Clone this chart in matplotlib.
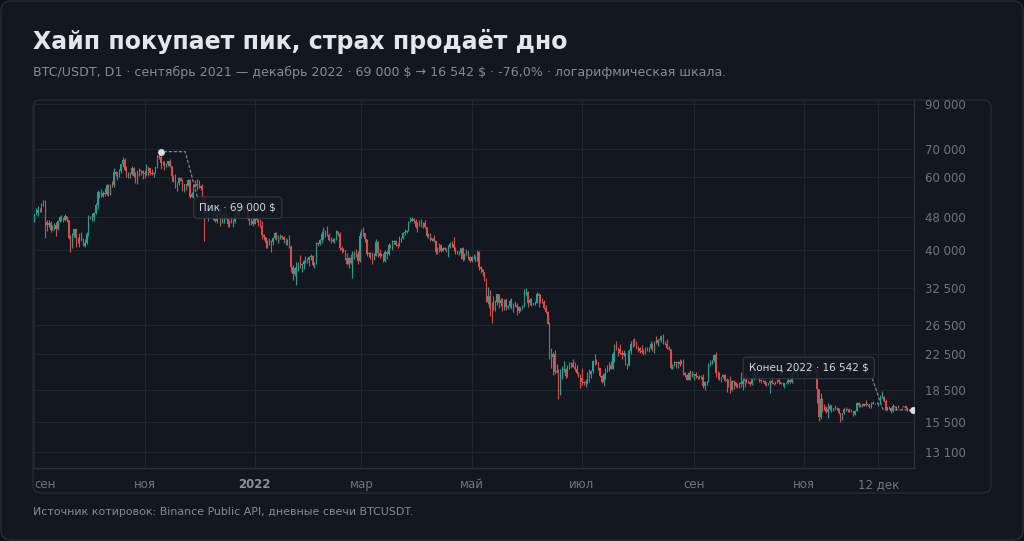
import matplotlib
matplotlib.use('Agg')
import matplotlib.pyplot as plt
import matplotlib.dates as mdates
from matplotlib.patches import FancyBboxPatch
from matplotlib.transforms import IdentityTransform
import numpy as np
import pandas as pd

# BTCUSDT daily candles, 2021-09-01 .. 2022-12-31 (one row per month)
first_open = 47130
close = [
    48810, 49246, 49999, 49915, 51756, 52663, 46863, 46048, 46395, 44850, 45173, 46026, 44940, 47111, 48121, 47737, 47299, 48293, 47241, 42843, 40693, 43574, 44895, 42839, 42716, 43208, 42235, 41034, 41564, 43790,
    48141, 47634, 48200, 49224, 51471, 55315, 53785, 53951, 54949, 54659, 57471, 56005, 57367, 57347, 61672, 60875, 61528, 62009, 64280, 66001, 62193, 60688, 61286, 60852, 63078, 60328, 58413, 60575, 62253, 61859, 61299,
    60911, 63219, 62896, 61395, 60937, 61470, 63273, 67525, 66947, 64882, 64774, 64122, 64380, 65466, 63557, 60161, 60368, 56942, 58119, 59697, 58730, 56289, 57569, 57162, 58960, 53727, 54721, 57274, 57776, 56950,
    57184, 56480, 53601, 49152, 49397, 50441, 50589, 50471, 47545, 47140, 49389, 50053, 46702, 48343, 48864, 47632, 46131, 46834, 46681, 46915, 48890, 48589, 50838, 50821, 50429, 50810, 50640, 47589, 46464, 47120, 46216,
    47722, 47286, 46446, 45833, 43431, 43082, 41566, 41679, 41864, 41822, 42736, 43946, 42592, 43099, 43177, 43114, 42250, 42375, 41744, 40680, 36445, 35071, 36244, 36660, 36958, 36809, 37160, 37716, 38166, 37881, 38466,
    38695, 36896, 37311, 41574, 41382, 42380, 43840, 44043, 44372, 43495, 42373, 42217, 42053, 42535, 44544, 43873, 40515, 39974, 40079, 38386, 37008, 38230, 37250, 38327, 39219, 39116, 37700, 43160,
    44421, 43892, 42454, 39148, 39397, 38420, 37988, 38730, 41941, 39422, 38729, 38807, 37777, 39671, 39280, 41114, 40917, 41757, 42201, 41262, 41002, 42364, 42882, 43991, 44313, 44511, 46827, 47122, 47434, 47067, 45510,
    46283, 45811, 46407, 46580, 45497, 43170, 43444, 42252, 42753, 42158, 39530, 40074, 41147, 39942, 40552, 40378, 39678, 40801, 41493, 41358, 40480, 39709, 39441, 39450, 40426, 38112, 39235, 39742, 38596, 37630,
    38468, 38525, 37728, 39690, 36552, 36013, 35472, 34038, 30077, 31017, 29103, 29030, 29287, 30074, 31329, 29874, 30444, 28715, 30320, 29201, 29445, 30294, 29110, 29655, 29543, 29201, 28630, 29030, 29468, 31734, 31801,
    29805, 30452, 29700, 29865, 29919, 31373, 31125, 30205, 30110, 29091, 28425, 26575, 22487, 22136, 22584, 20401, 20468, 18970, 20574, 20574, 20719, 19965, 21100, 21232, 21502, 21028, 20735, 20280, 20104, 19784,
    19269, 19243, 19297, 20231, 20190, 20548, 21637, 21731, 21592, 20860, 19970, 19329, 20212, 20569, 20836, 21190, 20779, 22485, 23389, 23231, 23164, 22714, 22465, 22609, 21361, 21239, 22930, 23843, 23804, 23656, 23336,
    23314, 22978, 22846, 22630, 23313, 23263, 23269, 23809, 23164, 23954, 23935, 24403, 24442, 24305, 24102, 23854, 23342, 23191, 20834, 21140, 21516, 21400, 21529, 21368, 21560, 20241, 20037, 19555, 20285, 19811, 20050,
    20131, 19952, 19832, 19986, 19812, 18837, 19290, 19329, 21381, 21460, 21769, 22370, 20296, 20241, 19701, 19803, 20113, 19416, 19537, 18875, 18461, 19401, 19289, 18920, 18807, 19227, 19079, 19412, 19591, 19422,
    19310, 19056, 19623, 20336, 20160, 19955, 19531, 19417, 19446, 19141, 19051, 19157, 19382, 19185, 19067, 19268, 19550, 19334, 19139, 19053, 19172, 19208, 19567, 19345, 20095, 20771, 20295, 20591, 20809, 20627, 20490,
    20483, 20151, 20207, 21148, 21299, 20905, 20592, 18541, 15880, 17586, 17034, 16799, 16353, 16618, 16884, 16669, 16687, 16697, 16712, 16291, 15781, 16226, 16603, 16598, 16522, 16458, 16428, 16213, 16443, 17163,
    16978, 17092, 16885, 17105, 16967, 17089, 16836, 17224, 17128, 17127, 17085, 17209, 17775, 17804, 17357, 16633, 16776, 16739, 16439, 16898, 16818, 16830, 16780, 16837, 16832, 16919, 16707, 16547, 16633, 16607, 16542,
]
high = [
    48900, 50400, 51050, 50560, 51900, 52950, 52920, 47380, 47400, 47050, 45970, 46460, 46880, 47250, 48450, 48490, 48170, 48800, 48370, 47340, 43630, 44000, 44980, 45200, 42980, 43950, 44350, 42790, 42650, 44130,
    48500, 48360, 49250, 49500, 51890, 55750, 55330, 56100, 55480, 56560, 57840, 57680, 57700, 58550, 62930, 62000, 61720, 62700, 64490, 67000, 66640, 63730, 61750, 61500, 63730, 63290, 61500, 62500, 62980, 62360, 62400,
    62400, 64270, 63500, 63130, 62600, 61560, 63290, 67790, 68530, 69000, 65600, 65460, 64970, 65500, 66400, 63620, 60800, 60950, 58350, 59850, 60000, 59290, 57850, 57800, 59400, 59180, 55330, 57450, 58870, 59180,
    59050, 57380, 57600, 53910, 49700, 51000, 51940, 51200, 50800, 50100, 49490, 50800, 50300, 48700, 49500, 49420, 47990, 47330, 48300, 47540, 49330, 49580, 51380, 51870, 51180, 51280, 52090, 50700, 48140, 47900, 48550,
    47950, 47990, 47570, 47500, 47070, 43750, 43150, 42300, 42790, 42250, 43100, 44320, 44300, 43450, 43800, 43480, 43200, 42690, 42580, 43500, 41100, 36840, 36500, 37550, 37550, 38920, 37230, 38000, 38720, 38360, 38740,
    39270, 38860, 37390, 41770, 41950, 42650, 44500, 45490, 44800, 45820, 43920, 43000, 42760, 42880, 44770, 44580, 44170, 40960, 40450, 40150, 39490, 38430, 39250, 39840, 39730, 40300, 39850, 44230,
    44950, 45400, 44100, 42530, 39700, 39690, 39550, 39360, 42600, 42040, 40240, 39490, 39310, 39950, 39880, 41700, 41500, 42330, 42400, 42300, 41540, 43360, 43020, 44220, 45100, 44820, 46920, 48190, 48100, 47700, 47600,
    46720, 47210, 47440, 46890, 47200, 45510, 43900, 43970, 42800, 43420, 42410, 40700, 41560, 41500, 40700, 40710, 40600, 41100, 41760, 42200, 42980, 40800, 39980, 39930, 40600, 40800, 39470, 40370, 39930, 38790,
    38670, 39170, 38650, 40020, 39840, 36650, 36130, 35500, 34250, 32650, 32160, 30030, 31080, 30340, 31400, 31400, 30770, 30650, 30550, 30780, 29600, 30480, 30650, 29830, 30220, 29850, 29400, 29240, 29540, 32220, 32400,
    31980, 30690, 30680, 29950, 30180, 31770, 31560, 31340, 30700, 30390, 29480, 28550, 26900, 23360, 22800, 22980, 21370, 20800, 20800, 21100, 21720, 20870, 21230, 21520, 21590, 21870, 21540, 21200, 20430, 20180,
    20870, 19440, 19650, 20350, 20750, 20680, 21840, 22530, 21950, 21600, 20880, 20050, 20250, 20880, 21200, 21580, 21690, 22780, 23800, 24280, 23430, 23760, 22990, 23020, 22660, 21380, 23110, 24200, 24440, 24670, 24200,
    23510, 23470, 23650, 23230, 23470, 23400, 23400, 24250, 23930, 24230, 24920, 24460, 24890, 25050, 25210, 24250, 24450, 23600, 23210, 21380, 21690, 21540, 21680, 21900, 21820, 21880, 20350, 20160, 20430, 20580, 20490,
    20200, 20440, 20000, 20060, 20060, 20180, 19460, 19450, 21500, 21800, 21860, 22490, 22800, 20550, 20380, 19890, 20190, 20170, 19690, 19630, 19960, 19500, 19500, 19310, 19180, 19320, 20380, 19790, 19650, 20180,
    19480, 19400, 19720, 20460, 20370, 20460, 20060, 19620, 19560, 19530, 19270, 19230, 19520, 19950, 19230, 19420, 19680, 19710, 19350, 19340, 19250, 19260, 19700, 19600, 20420, 21020, 20850, 20750, 21090, 20930, 20850,
    20700, 20800, 20400, 21300, 21480, 21370, 21000, 20670, 18600, 18160, 17650, 17060, 16880, 17190, 17140, 16990, 16750, 17010, 16810, 16750, 16300, 16300, 16710, 16810, 16600, 16690, 16600, 16490, 16530, 17250,
    17320, 17110, 17160, 17200, 17430, 17110, 17140, 17300, 17360, 17230, 17270, 17240, 18000, 18390, 17850, 17530, 16800, 16870, 16820, 17060, 16930, 16870, 16960, 16860, 16860, 16940, 16970, 16790, 16660, 16650, 16630,
]
low = [
    46700, 48600, 48400, 49400, 49500, 50950, 42850, 44400, 45500, 44150, 44750, 44770, 43370, 44700, 46700, 47050, 46750, 47050, 46850, 42500, 39600, 40550, 43080, 40680, 41680, 40750, 42100, 40900, 40750, 41450,
    43300, 47420, 47100, 46900, 49000, 50380, 53350, 53600, 53680, 54080, 54400, 53880, 54250, 56800, 56850, 60150, 58960, 60100, 61320, 63480, 62000, 60000, 59670, 59510, 60650, 59820, 58000, 57820, 60200, 60720, 59450,
    59500, 60620, 60380, 60680, 60720, 60050, 61380, 63090, 66380, 62820, 64100, 62330, 63400, 63580, 63400, 58570, 58370, 56470, 55600, 57350, 58520, 55650, 55290, 55830, 57000, 53500, 53670, 53330, 56730, 55880,
    56460, 55840, 51680, 42000, 47730, 47100, 50040, 48600, 47300, 46850, 46630, 48640, 45670, 46550, 46550, 47530, 45500, 45540, 46410, 45560, 46630, 48420, 48050, 50400, 50200, 49400, 50450, 47300, 46100, 45900, 45680,
    46210, 46650, 45700, 45500, 42500, 42430, 40610, 40500, 41200, 39650, 41270, 42450, 42310, 41730, 42570, 42600, 41540, 41250, 41140, 40570, 35440, 34010, 34600, 32920, 35700, 36200, 35510, 36160, 37300, 37350, 36630,
    38000, 36590, 36250, 37060, 40960, 41100, 41650, 42650, 43120, 43180, 42000, 41750, 41880, 41570, 42430, 43310, 40070, 39450, 39640, 38000, 36800, 36350, 37040, 34320, 38010, 38570, 37000, 37450,
    42800, 43330, 41830, 38650, 38580, 38090, 37160, 37870, 38660, 38540, 38220, 38660, 37580, 37560, 38100, 38910, 40500, 40140, 41500, 40920, 40500, 40900, 41760, 42560, 43620, 44070, 44420, 46660, 46950, 46560, 45200,
    44200, 45620, 45520, 45120, 45350, 43120, 42730, 42110, 42130, 41870, 39200, 39250, 39550, 39550, 39800, 39990, 39560, 38540, 40570, 40820, 39750, 39180, 39280, 38970, 38200, 37700, 37870, 38880, 38170, 37580,
    37390, 38050, 37510, 37670, 35860, 35260, 34780, 33710, 30030, 29730, 27780, 26700, 28750, 28630, 29500, 29090, 29450, 28650, 28690, 28740, 28950, 29250, 28870, 28500, 29300, 28020, 28200, 28560, 28850, 29300, 31220,
    29300, 29580, 29380, 29480, 29510, 29880, 29220, 29850, 29950, 28850, 28200, 26560, 21930, 20850, 20110, 20230, 20250, 17620, 17960, 19640, 20350, 19770, 19900, 20700, 20900, 20970, 20500, 20170, 19860, 18630,
    18970, 18980, 18780, 19050, 19300, 19770, 20240, 21190, 21320, 20650, 19880, 19240, 18910, 19650, 20380, 20480, 20760, 20760, 21580, 23030, 22340, 22510, 21930, 22260, 21250, 20710, 21040, 22600, 23430, 23500, 23230,
    22850, 22660, 22690, 22430, 22590, 22920, 22850, 23160, 22880, 22670, 23860, 23600, 24300, 24150, 23780, 23710, 23180, 23080, 20780, 20760, 21070, 20890, 20900, 21140, 21310, 20110, 19800, 19520, 19540, 19540, 19800,
    19560, 19750, 19650, 19600, 19640, 18640, 18510, 19010, 19300, 21110, 21350, 21550, 19870, 19620, 19500, 19320, 19770, 19370, 18230, 18740, 18130, 18360, 18530, 18820, 18630, 18680, 18810, 18470, 18830, 19160,
    19160, 18920, 19000, 19500, 19740, 19860, 19330, 19250, 19310, 19030, 18860, 18970, 18190, 19080, 18970, 19060, 19150, 19100, 19080, 18900, 18650, 19110, 19070, 19160, 19240, 20060, 20200, 20000, 20560, 20500, 20240,
    20350, 20050, 20030, 20180, 21080, 20880, 20390, 17170, 15590, 15750, 16360, 16550, 16230, 15820, 16530, 16400, 16420, 16550, 16560, 16190, 15480, 15630, 16160, 16460, 16350, 16400, 16400, 15980, 16110, 16430,
    16860, 16790, 16860, 16870, 16880, 16910, 16680, 16740, 17060, 17090, 17070, 16870, 17080, 17660, 17280, 16530, 16580, 16670, 16260, 16400, 16720, 16560, 16750, 16770, 16740, 16790, 16600, 16460, 16490, 16330, 16490,
]

y_ticks = [13100, 15500, 18500, 22500, 26500, 32500, 40000, 48000, 60000, 70000, 90000]
x_tick_dates = ['2021-09-01', '2021-11-01', '2022-01-01', '2022-03-01', '2022-05-01',
                '2022-07-01', '2022-09-01', '2022-11-01', '2022-12-12']
x_tick_labels = ['сен', 'ноя', '2022', 'мар', 'май', 'июл', 'сен', 'ноя', '12 дек']

BG = '#131720'
PANEL_EDGE = '#262b36'
GRID = '#20252f'
UP = '#24a190'
DOWN = '#d64f4c'
MUTED = '#858b96'
TICK = '#6f7580'


def fmt(v):
    return f'{v:,.0f}'.replace(',', ' ')


def main():
    c = np.array(close, dtype=float)
    h = np.array(high, dtype=float)
    l = np.array(low, dtype=float)
    o = np.concatenate([[first_open], c[:-1]])
    dates = pd.date_range('2021-09-01', periods=len(c), freq='D')
    x = mdates.date2num(dates)

    fig = plt.figure(figsize=(10.24, 5.41), dpi=100, facecolor='#0f1218')
    W, H = 1024, 541

    # outer card and chart panel (pixel coords)
    fig.patches.append(FancyBboxPatch((1, 1), W - 2, H - 2, boxstyle='round,pad=0,rounding_size=10',
                                      transform=IdentityTransform(), fc=BG, ec='#272c37', lw=1, zorder=-2))
    fig.patches.append(FancyBboxPatch((33, H - 493), 958, 393, boxstyle='round,pad=0,rounding_size=8',
                                      transform=IdentityTransform(), fc='none', ec=PANEL_EDGE, lw=1, zorder=-1))

    ax = fig.add_axes([33 / W, 1 - 468 / H, (914 - 33) / W, (468 - 100) / H])
    ax.set_facecolor('none')

    up = c >= o
    colors = np.where(up, UP, DOWN)
    ax.vlines(x, l, h, colors=colors, lw=0.8, zorder=2)
    ax.bar(x, np.abs(c - o), bottom=np.minimum(o, c), width=0.62, color=colors, lw=0, zorder=3)

    ax.set_yscale('log')
    ax.set_ylim(12000, 91800)
    ax.set_xlim(x[0] - 0.7, x[-1] + 0.7)

    ax.yaxis.tick_right()
    ax.set_yticks(y_ticks)
    ax.set_yticklabels([fmt(v) for v in y_ticks])
    ax.yaxis.set_minor_locator(plt.NullLocator())
    ax.tick_params(axis='y', length=0, pad=8, labelsize=8.5, labelcolor=TICK)

    xt = mdates.date2num(pd.to_datetime(x_tick_dates))
    ax.set_xticks(xt)
    ax.set_xticklabels(x_tick_labels)
    ax.tick_params(axis='x', length=0, pad=7, labelsize=8.5, labelcolor=TICK)
    for lab in ax.get_xticklabels():
        if lab.get_text() == '2022':
            lab.set_fontweight('bold')
            lab.set_color('#8a909b')
    ax.get_xticklabels()[0].set_horizontalalignment('left')

    ax.grid(True, color=GRID, lw=0.8, zorder=0)
    ax.set_axisbelow(True)
    for s in ['left', 'top']:
        ax.spines[s].set_visible(False)
    for s in ['right', 'bottom']:
        ax.spines[s].set_color('#2b303b')
        ax.spines[s].set_linewidth(1)

    # peak and end markers
    ip = int(np.argmax(h))
    peak = h[ip]
    end = c[-1]
    ax.plot([x[ip], x[-1]], [peak, end], 'o', ms=5, color='#d8dbe0', zorder=6, mec='none')

    bbox = dict(boxstyle='round,pad=0.55,rounding_size=0.35', fc='#161a23', ec='#363b46', lw=0.8, alpha=0.88)
    line = dict(arrowstyle='-', linestyle=(0, (2, 2)), color='#7d838e', lw=0.9, shrinkA=0, shrinkB=3)

    ax.annotate(f'Пик · {fmt(peak)} \\$', xy=(x[ip], peak), xytext=(77, -56), textcoords='offset pixels',
                ha='center', va='center', fontsize=7.5, color='#d4d7dd', bbox=bbox, zorder=7,
                arrowprops=dict(line, connectionstyle='angle,angleA=105,angleB=0,rad=0', relpos=(0, 0.8)))
    ax.annotate(f'Конец 2022 · {fmt(end)} \\$', xy=(x[-1], end), xytext=(-104, 42), textcoords='offset pixels',
                ha='center', va='center', fontsize=7.5, color='#d4d7dd', bbox=bbox, zorder=7,
                arrowprops=dict(line, connectionstyle='angle,angleA=-71,angleB=0,rad=0', relpos=(1, 0.5)))

    pct = f'{(end / peak - 1) * 100:.1f}%'.replace('.', ',')
    fig.text(33 / W, 1 - 41 / H, 'Хайп покупает пик, страх продаёт дно', fontsize=17, fontweight='bold',
             color='#e4e6ea', va='center')
    sub = (f'BTC/USDT, D1 · сентябрь 2021 — декабрь 2022 · {fmt(peak)} \\$ → {fmt(end)} \\$ · '
           f'{pct} · логарифмическая шкала.')
    fig.text(33 / W, 1 - 72 / H, sub, fontsize=9.1, color=MUTED, va='center')
    fig.text(33 / W, 1 - 512 / H, 'Источник котировок: Binance Public API, дневные свечи BTCUSDT.',
             fontsize=7.9, color=MUTED, va='center')

    fig.savefig('out.png', dpi=100, facecolor=fig.get_facecolor())


main()
